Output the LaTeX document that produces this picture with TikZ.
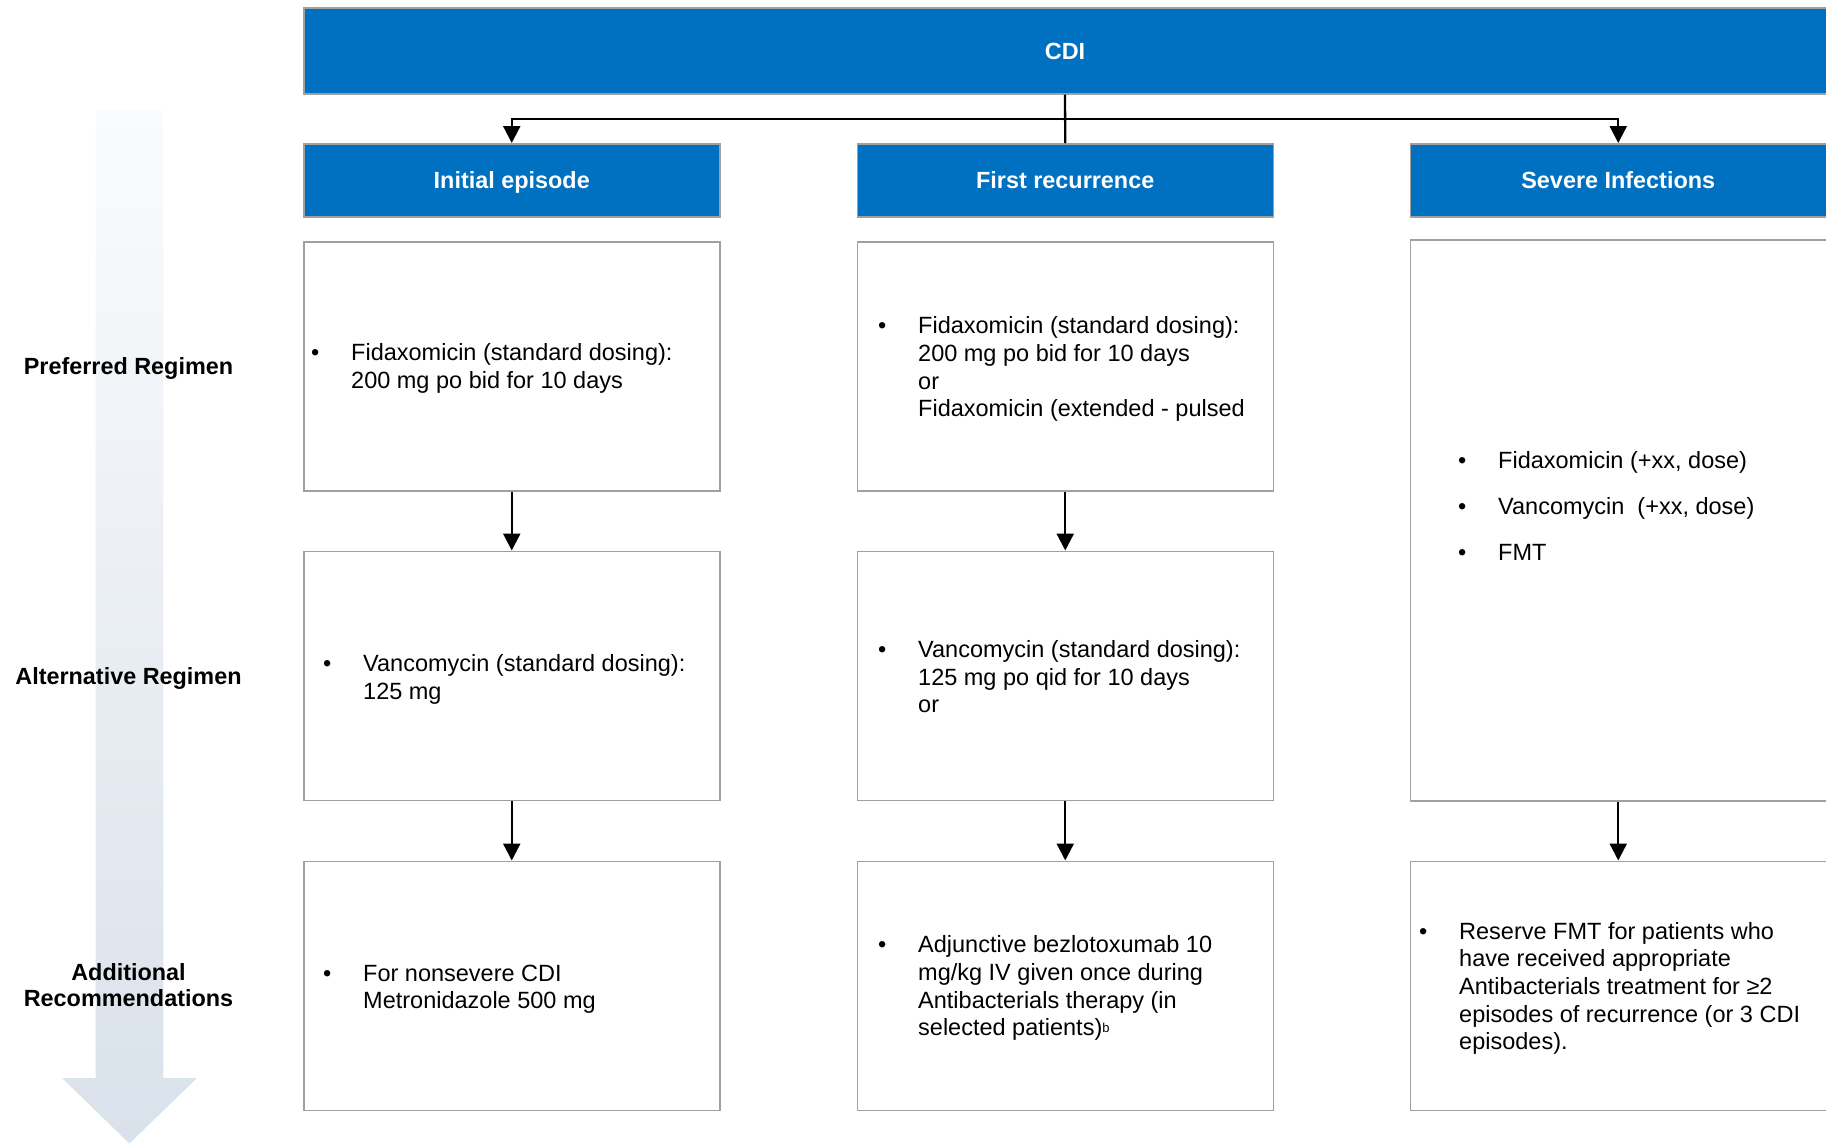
\documentclass[tikz,border=0pt]{standalone}
\usepackage{fontspec}
\setmainfont{Liberation Sans}
\usetikzlibrary{arrows.meta,calc}

\definecolor{cdiblue}{RGB}{0,112,192}
\definecolor{edgegray}{RGB}{160,160,160}
\definecolor{fadetop}{RGB}{250,251,253}
\definecolor{fadebot}{RGB}{217,225,234}

\newcommand\txtbody{\fontsize{23.5pt}{27.7pt}\selectfont}
\newcommand\txthead{\fontsize{23.4pt}{26.7pt}\selectfont\bfseries}
% bulleted block: fixed bullet column, then the text lines
\newcommand\bullist[1]{\begin{tabular}[t]{@{}p{40pt}@{}l@{}}#1\end{tabular}}

\begin{document}
\begin{tikzpicture}[x=1pt,y=-1pt,
  box/.style={draw=edgegray, line width=1.5pt, fill=white, inner sep=0pt,
              anchor=north west, minimum width=416pt, minimum height=249pt},
  hdr/.style={box, fill=cdiblue, text=white, font=\txthead,
              minimum height=73pt, text height=16.8pt, text depth=0pt},
  conn/.style={line width=2.3pt, draw=black},
  arr/.style={conn, -{Triangle[length=17pt,width=17pt]}},
  bodytxt/.style={anchor=base west, inner sep=0pt, font=\txtbody, text=black},
  sidelbl/.style={anchor=base, inner sep=0pt, font=\txthead, text=black},
]
\useasboundingbox (0,0) rectangle (1826,1144);

% faded downward arrow behind the row labels
\shade[top color=fadetop, bottom color=fadebot]
  (95.5,110) -- (163.3,110) -- (163.3,1078) -- (197,1078) -- (129.4,1143.5)
  -- (62,1078) -- (95.5,1078) -- cycle;

% row labels
\node[sidelbl] (l1) at (128.5,374) {Preferred Regimen};
\node[sidelbl] (l2) at (128.5,684) {Alternative Regimen};
\node[sidelbl] (l3) at (128.5,980)
  {\begin{tabular}[t]{@{}c@{}}Additional\\Recommendations\end{tabular}};

% title and column headers
\node[hdr, minimum width=1522.5pt, minimum height=86pt] (cdi) at (303,7) {CDI};
\node[hdr] (h1) at (303,143) {Initial episode};
\node[hdr] (h2) at (856.5,143) {First recurrence};
\node[hdr] (h3) at (1409.5,143) {Severe Infections};

% regimen boxes
\node[box] (b11) at (303,241) {};
\node[box] (b21) at (856.5,241) {};
\node[box, minimum height=561pt] (b31) at (1409.5,239) {};
\node[box] (b12) at (303,550.5) {};
\node[box] (b22) at (856.5,550.5) {};
\node[box] (b13) at (303,860.5) {};
\node[box] (b23) at (856.5,860.5) {};
\node[box] (b33) at (1409.5,860.5) {};

% box contents
\node[bodytxt] (t11) at (311,360.7) {\bullist{%
  \textbullet & Fidaxomicin (standard dosing):\\
              & 200 mg po bid for 10 days}};
\node[bodytxt] (t21) at (878,333.7) {\bullist{%
  \textbullet & Fidaxomicin (standard dosing):\\
              & 200 mg po bid for 10 days\\
              & or\\
              & Fidaxomicin (extended - pulsed}};
\node[bodytxt] (t31) at (1458,468) {\bullist{%
  \textbullet & Fidaxomicin (+xx, dose)\\[18.3pt]
  \textbullet & Vancomycin\ \ (+xx, dose)\\[18.3pt]
  \textbullet & FMT}};
\node[bodytxt] (t12) at (323,671.4) {\bullist{%
  \textbullet & Vancomycin (standard dosing):\\
              & 125 mg}};
\node[bodytxt] (t22) at (878,657.5) {\bullist{%
  \textbullet & Vancomycin (standard dosing):\\
              & 125 mg po qid for 10 days\\
              & or}};
\node[bodytxt] (t13) at (323,981.2) {\bullist{%
  \textbullet & For nonsevere CDI\\
              & Metronidazole 500 mg}};
\node[bodytxt] (t23) at (878,952.7) {\bullist{%
  \textbullet & Adjunctive bezlotoxumab 10\\
              & mg/kg IV given once during\\
              & Antibacterials therapy (in\\
              & selected patients)\raisebox{0.25ex}{\fontsize{13pt}{13pt}\selectfont b}}};
\node[bodytxt] (t33) at (1419,939) {\bullist{%
  \textbullet & Reserve FMT for patients who\\
              & have received appropriate\\
              & Antibacterials treatment for ≥2\\
              & episodes of recurrence (or 3 CDI\\
              & episodes).}};

% connectors
\coordinate (bus) at ($(cdi.south)!0.5!(h2.north)$);
\draw[conn] (cdi.south) -- (h2.north);
\draw[arr] (bus) -| (h1.north);
\draw[arr] (bus) -| (h3.north);
\draw[arr] (b11.south) -- (b12.north);
\draw[arr] (b12.south) -- (b13.north);
\draw[arr] (b21.south) -- (b22.north);
\draw[arr] (b22.south) -- (b23.north);
\draw[arr] (b31.south) -- (b33.north);
\end{tikzpicture}
\end{document}
